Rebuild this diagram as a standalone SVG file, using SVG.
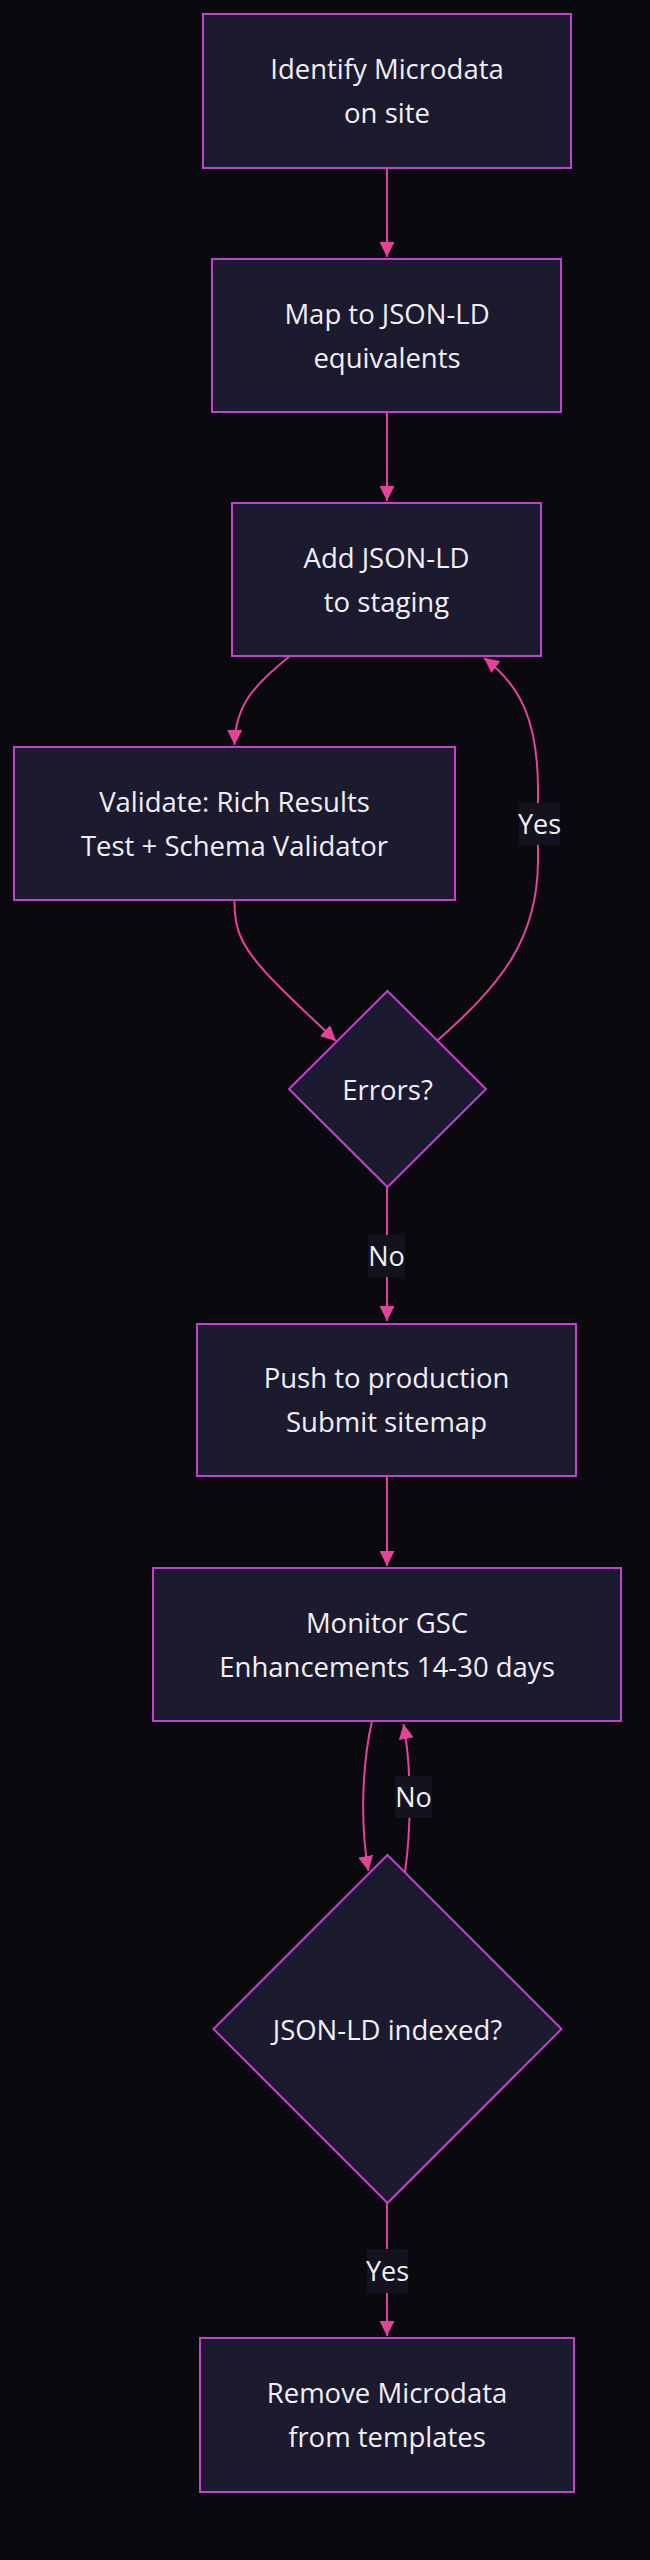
<svg xmlns="http://www.w3.org/2000/svg" width="650" height="2560" viewBox="0 0 650 2560">
<defs>
<style>
.node rect,.node polygon{fill:#1b1a2e;stroke:#c241cf;stroke-width:2}
.node text{font-family:"Open Sans","Noto Sans",sans-serif;font-size:27.5px;fill:#f0eff5;text-anchor:middle}
.edge{fill:none;stroke:#e3449a;stroke-width:2}
.lbl rect{fill:#13121e}
.lbl text{font-family:"Open Sans","Noto Sans",sans-serif;font-size:27px;fill:#f0eff5;text-anchor:middle}
</style>
<marker id="arr" viewBox="0 0 10 10" refX="10" refY="5" markerWidth="7.5" markerHeight="7.5" markerUnits="strokeWidth" orient="auto">
<path d="M0,0 L10,5 L0,10 z" fill="#e3449a"/>
</marker>
</defs>
<rect width="650" height="2560" fill="#0a090e"/>
<g id="edges">
<path class="edge" d="M387,168 L387,257" marker-end="url(#arr)"/>
<path class="edge" d="M387,412 L387,501" marker-end="url(#arr)"/>
<path class="edge" d="M290,656 C255,684 235,705 234.5,745" marker-end="url(#arr)"/>
<path class="edge" d="M234.5,900 C234,945 250,960 336,1041" marker-end="url(#arr)"/>
<path class="edge" d="M438,1040 C500,985 538,940 538,860 L538,790 C538,720 520,685 484,658" marker-end="url(#arr)"/>
<path class="edge" d="M387,1187 L387,1321" marker-end="url(#arr)"/>
<path class="edge" d="M387,1476 L387,1566" marker-end="url(#arr)"/>
<path class="edge" d="M372,1721 C362,1765 360,1825 368.5,1871" marker-end="url(#arr)"/>
<path class="edge" d="M405,1872 C411,1830 412,1770 403.5,1724" marker-end="url(#arr)"/>
<path class="edge" d="M387,2203 L387,2336" marker-end="url(#arr)"/>
</g>
<g id="edge-labels">
<g class="lbl"><rect x="519" y="803" width="41" height="42"/><text x="539.5" y="834">Yes</text></g>
<g class="lbl"><rect x="368" y="1235" width="37" height="42"/><text x="386.5" y="1266">No</text></g>
<g class="lbl"><rect x="395" y="1776" width="37" height="42"/><text x="413.5" y="1807">No</text></g>
<g class="lbl"><rect x="367" y="2249" width="41" height="44"/><text x="387.5" y="2281">Yes</text></g>
</g>
<g id="n1" class="node"><rect x="203" y="14" width="368" height="154"/><text x="387" y="79">Identify Microdata</text><text x="387" y="123">on site</text></g>
<g id="n2" class="node"><rect x="212" y="259" width="349" height="153"/><text x="387" y="324">Map to JSON-LD</text><text x="387" y="368">equivalents</text></g>
<g id="n3" class="node"><rect x="232" y="503" width="309" height="153"/><text x="386.5" y="568">Add JSON-LD</text><text x="386.5" y="612">to staging</text></g>
<g id="n4" class="node"><rect x="14" y="747" width="441" height="153"/><text x="234.5" y="812">Validate: Rich Results</text><text x="234.5" y="856">Test + Schema Validator</text></g>
<g id="n5" class="node"><polygon points="387.5,991 486,1089 387.5,1187 289,1089"/><text x="387.5" y="1100">Errors?</text></g>
<g id="n6" class="node"><rect x="197" y="1324" width="379" height="152"/><text x="386.5" y="1388">Push to production</text><text x="386.5" y="1432">Submit sitemap</text></g>
<g id="n7" class="node"><rect x="153" y="1568" width="468" height="153"/><text x="387" y="1633">Monitor GSC</text><text x="387" y="1677">Enhancements 14-30 days</text></g>
<g id="n8" class="node"><polygon points="387.5,1855 561.5,2029 387.5,2203 213.5,2029"/><text x="387.5" y="2040">JSON-LD indexed?</text></g>
<g id="n9" class="node"><rect x="200" y="2338" width="374" height="154"/><text x="387" y="2403">Remove Microdata</text><text x="387" y="2447">from templates</text></g>
</svg>
